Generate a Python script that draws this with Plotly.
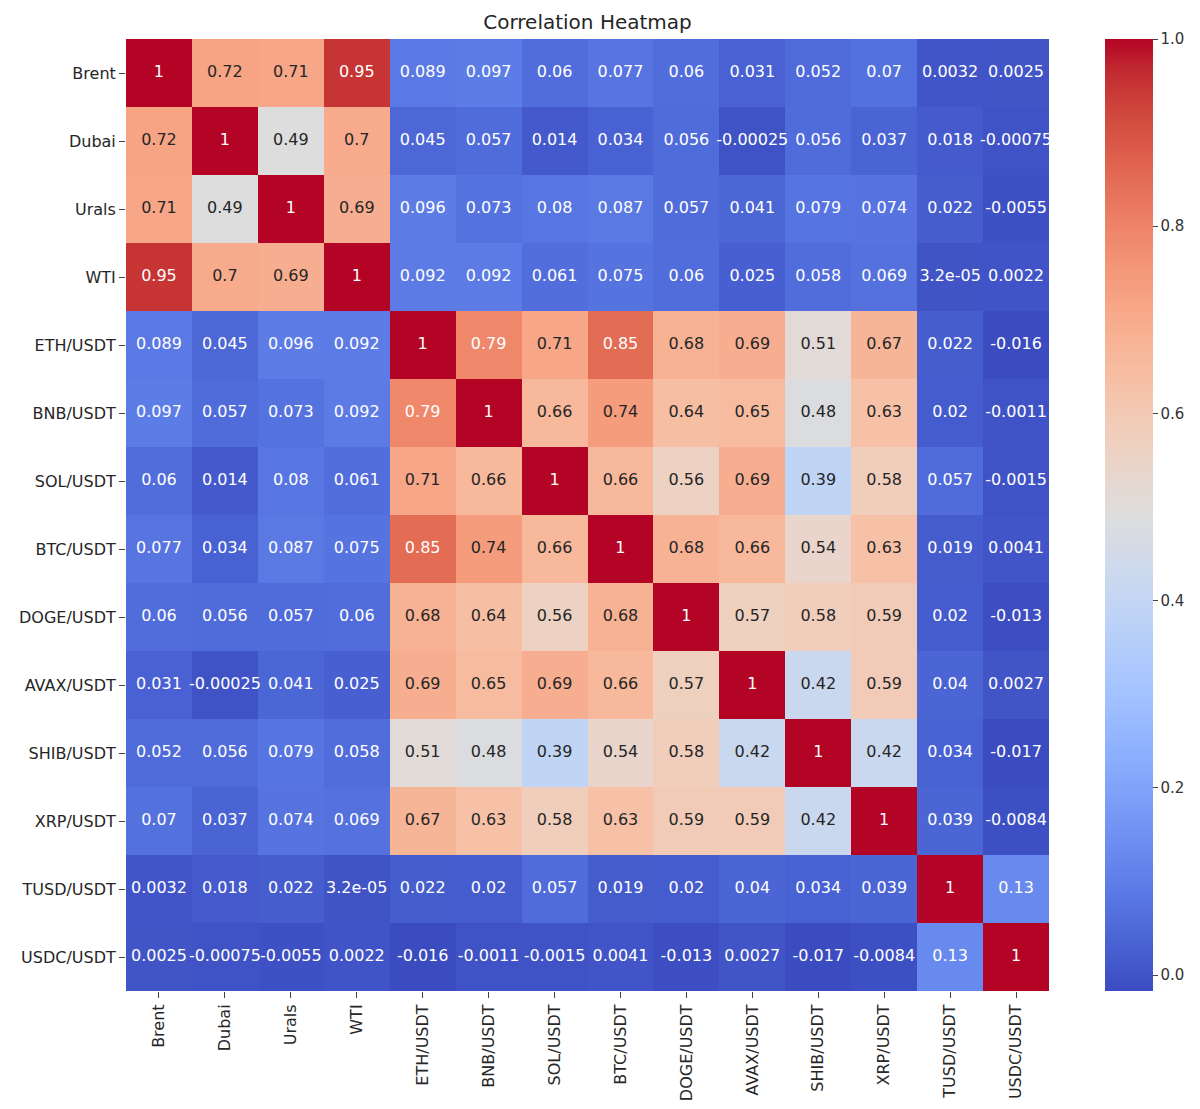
import plotly.graph_objects as go

labels = ["Brent", "Dubai", "Urals", "WTI", "ETH/USDT", "BNB/USDT", "SOL/USDT", "BTC/USDT",
          "DOGE/USDT", "AVAX/USDT", "SHIB/USDT", "XRP/USDT", "TUSD/USDT", "USDC/USDT"]

row_brent = [1, 0.72, 0.71, 0.95, 0.089, 0.097, 0.06, 0.077, 0.06, 0.031, 0.052, 0.07, 0.0032, 0.0025]
row_dubai = [0.72, 1, 0.49, 0.7, 0.045, 0.057, 0.014, 0.034, 0.056, -0.00025, 0.056, 0.037, 0.018, -0.00075]
row_urals = [0.71, 0.49, 1, 0.69, 0.096, 0.073, 0.08, 0.087, 0.057, 0.041, 0.079, 0.074, 0.022, -0.0055]
row_wti = [0.95, 0.7, 0.69, 1, 0.092, 0.092, 0.061, 0.075, 0.06, 0.025, 0.058, 0.069, 3.2e-05, 0.0022]
row_eth = [0.089, 0.045, 0.096, 0.092, 1, 0.79, 0.71, 0.85, 0.68, 0.69, 0.51, 0.67, 0.022, -0.016]
row_bnb = [0.097, 0.057, 0.073, 0.092, 0.79, 1, 0.66, 0.74, 0.64, 0.65, 0.48, 0.63, 0.02, -0.0011]
row_sol = [0.06, 0.014, 0.08, 0.061, 0.71, 0.66, 1, 0.66, 0.56, 0.69, 0.39, 0.58, 0.057, -0.0015]
row_btc = [0.077, 0.034, 0.087, 0.075, 0.85, 0.74, 0.66, 1, 0.68, 0.66, 0.54, 0.63, 0.019, 0.0041]
row_doge = [0.06, 0.056, 0.057, 0.06, 0.68, 0.64, 0.56, 0.68, 1, 0.57, 0.58, 0.59, 0.02, -0.013]
row_avax = [0.031, -0.00025, 0.041, 0.025, 0.69, 0.65, 0.69, 0.66, 0.57, 1, 0.42, 0.59, 0.04, 0.0027]
row_shib = [0.052, 0.056, 0.079, 0.058, 0.51, 0.48, 0.39, 0.54, 0.58, 0.42, 1, 0.42, 0.034, -0.017]
row_xrp = [0.07, 0.037, 0.074, 0.069, 0.67, 0.63, 0.58, 0.63, 0.59, 0.59, 0.42, 1, 0.039, -0.0084]
row_tusd = [0.0032, 0.018, 0.022, 3.2e-05, 0.022, 0.02, 0.057, 0.019, 0.02, 0.04, 0.034, 0.039, 1, 0.13]
row_usdc = [0.0025, -0.00075, -0.0055, 0.0022, -0.016, -0.0011, -0.0015, 0.0041, -0.013, 0.0027, -0.017, -0.0084, 0.13, 1]

matrix = [row_brent, row_dubai, row_urals, row_wti, row_eth, row_bnb, row_sol, row_btc,
          row_doge, row_avax, row_shib, row_xrp, row_tusd, row_usdc]

cbar_ticks = [0.0, 0.2, 0.4, 0.6, 0.8, 1.0]
cbar_ticktext = ["0.0", "0.2", "0.4", "0.6", "0.8", "1.0"]

# Moreland coolwarm
cw = [(59,76,192),(68,90,204),(77,104,215),(87,117,225),(98,130,234),(108,142,241),
      (119,154,247),(130,165,251),(141,176,254),(152,185,255),(163,194,255),(174,201,253),
      (184,208,249),(194,213,244),(204,217,238),(213,219,230),(221,221,221),(229,216,209),
      (236,211,197),(241,204,184),(245,196,172),(247,187,159),(247,177,147),(247,166,134),
      (244,154,123),(241,141,111),(236,127,99),(229,112,88),(222,96,77),(213,80,66),
      (203,62,56),(192,40,47),(180,4,38)]
colorscale = [[i / (len(cw) - 1), "rgb(%d,%d,%d)" % c] for i, c in enumerate(cw)]

zmin = min(min(r) for r in matrix)
zmax = 1.0

def lum(v):
    t = (v - zmin) / (zmax - zmin)
    t = max(0.0, min(1.0, t))
    p = t * (len(cw) - 1)
    i = min(int(p), len(cw) - 2)
    f = p - i
    c = [cw[i][k] + (cw[i + 1][k] - cw[i][k]) * f for k in range(3)]
    def lin(x):
        x = x / 255.0
        return x / 12.92 if x <= 0.04045 else ((x + 0.055) / 1.055) ** 2.4
    return 0.2126 * lin(c[0]) + 0.7152 * lin(c[1]) + 0.0722 * lin(c[2])

xs, ys, txt, cols = [], [], [], []
for i, r in enumerate(matrix):
    for j, v in enumerate(r):
        xs.append(labels[j])
        ys.append(labels[i])
        txt.append(format(v, ".2g"))
        cols.append("#262626" if lum(v) > 0.408 else "#ffffff")

# page has an 8px body margin; figure coordinates are offset accordingly
OFF = 8
L, R, T, B = 126 - OFF, 151 + OFF, 39 - OFF, 118 + OFF
W, H = 1200, 1109
pw = W - L - R
n = len(labels)

fig = go.Figure()
fig.add_trace(go.Heatmap(
    z=matrix, x=labels, y=labels, colorscale=colorscale, zmin=zmin, zmax=zmax,
    colorbar=dict(
        tickvals=cbar_ticks, ticktext=cbar_ticktext, thickness=48, thicknessmode="pixels",
        len=1.0, lenmode="fraction",
        x=(1105 - OFF - L) / pw, xanchor="left", xpad=0, y=0, yanchor="bottom", ypad=0,
        outlinewidth=0, ticks="outside", ticklen=5, tickcolor="#444",
        tickfont=dict(family="DejaVu Sans", size=15, color="#333"),
    ),
))
fig.add_trace(go.Scatter(
    x=xs, y=ys, mode="text", text=txt,
    textfont=dict(family="DejaVu Sans", size=16, color=cols),
    hoverinfo="skip", showlegend=False, cliponaxis=False,
))

fig.update_layout(
    width=W, height=H,
    margin=dict(l=L, r=R, t=T, b=B, autoexpand=False),
    paper_bgcolor="white", plot_bgcolor="white",
    title=dict(text="Correlation Heatmap", x=(L + W - R) / 2 / W, xanchor="center",
               y=1 - (22 - OFF) / H, yanchor="middle", yref="container",
               font=dict(family="DejaVu Sans", size=20, color="#262626")),
    xaxis=dict(showgrid=False, zeroline=False, tickangle=-90, ticks="outside", ticklen=6,
               tickcolor="#444", automargin=False, range=[-0.5, n - 0.5],
               tickfont=dict(family="DejaVu Sans", size=16, color="#262626"),
               categoryorder="array", categoryarray=labels),
    yaxis=dict(showgrid=False, zeroline=False, ticks="outside", ticklen=6,
               tickcolor="#444", automargin=False, range=[n - 0.5, -0.5],
               tickfont=dict(family="DejaVu Sans", size=16, color="#262626"),
               categoryorder="array", categoryarray=labels),
    font=dict(family="DejaVu Sans"),
)

fig.write_html("out.html")
